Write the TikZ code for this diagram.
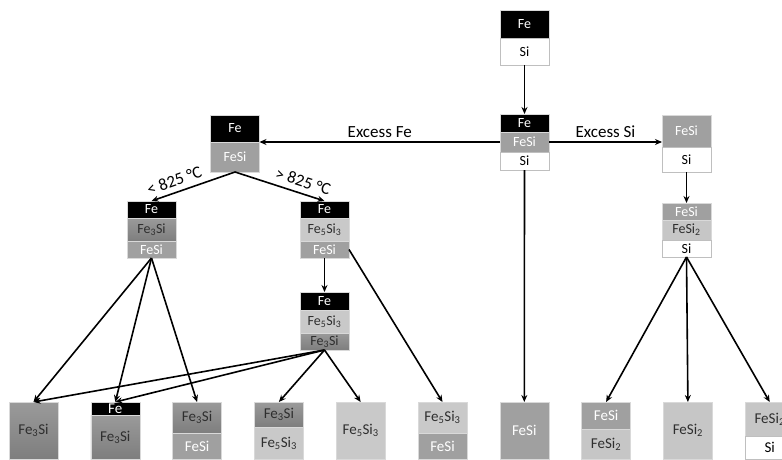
\documentclass[tikz,border=0pt]{standalone}
\usepackage{fontspec}
\setmainfont{Carlito}
\usetikzlibrary{positioning,arrows.meta}
\definecolor{fesigray}{HTML}{A0A0A0}
\definecolor{fethreetop}{HTML}{9A9A9A}
\definecolor{fethreebot}{HTML}{7E7E7E}
\definecolor{fefivegray}{HTML}{C9C9C9}
\definecolor{fesitwogray}{HTML}{C6C6C6}
\definecolor{inkgray}{HTML}{2E2E2E}
\tikzset{
  lay/.style={minimum width=49pt,inner sep=0pt,outer sep=0pt,draw=black!15,line width=0.4pt,font=\fontsize{14}{16}\selectfont},
  big/.style={font=\fontsize{15}{17}\selectfont},
  fe/.style={lay,fill=black,text=white},
  fesi/.style={lay,fill=fesigray,text=white},
  si/.style={lay,fill=white,text=black,draw=black!25},
  fethreesi/.style={lay,top color=fethreetop,bottom color=fethreebot,text=inkgray},
  fefivesithree/.style={lay,fill=fefivegray,text=inkgray},
  fesitwo/.style={lay,fill=fesitwogray,text=inkgray},
  link/.style={->,>={Stealth[length=7pt,width=6pt]},line width=1.6pt},
  lbl/.style={font=\fontsize{17}{19}\selectfont,text=black}
}
\begin{document}
\begin{tikzpicture}[x=1pt,y=-1pt]
\pgfmathsetmacro{\kdx}{81.8}
\clip (0,0) rectangle (782,460);
% starting couple
\node[fe,minimum height=28pt,anchor=north] (a1) at (524.5,10) {Fe};
\node[si,minimum height=27pt,below=0pt of a1] (a2) {Si};
% reacted couple
\node[fe,minimum height=18pt,anchor=north] (b1) at (524.5,114) {Fe};
\node[fesi,minimum height=20pt,below=0pt of b1] (b2) {FeSi};
\node[si,minimum height=18pt,below=0pt of b2] (b3) {Si};
% excess Fe
\node[fe,minimum height=27pt,anchor=north] (c1) at (235,115) {Fe};
\node[fesi,minimum height=30pt,below=0pt of c1] (c2) {FeSi};
% excess Si
\node[fesi,minimum height=32pt,anchor=north] (d1) at (686.5,115) {FeSi};
\node[si,minimum height=25pt,below=0pt of d1] (d2) {Si};
\node[fesi,minimum height=17pt,anchor=north] (e1) at (686.5,203) {FeSi};
\node[fesitwo,minimum height=20pt,below=0pt of e1] (e2) {FeSi\textsubscript{2}};
\node[si,minimum height=17pt,below=0pt of e2] (e3) {Si};
% below 825
\node[fe,minimum height=17pt,anchor=north] (f1) at (151.5,201) {Fe};
\node[fethreesi,minimum height=23pt,below=0pt of f1] (f2) {Fe\textsubscript{3}Si};
\node[fesi,minimum height=17pt,below=0pt of f2] (f3) {FeSi};
% above 825
\node[fe,minimum height=17pt,anchor=north] (g1) at (324.5,201) {Fe};
\node[fefivesithree,minimum height=23pt,below=0pt of g1] (g2) {Fe\textsubscript{5}Si\textsubscript{3}};
\node[fesi,minimum height=17pt,below=0pt of g2] (g3) {FeSi};
\node[fe,minimum height=18pt,anchor=north] (h1) at (324.5,292) {Fe};
\node[fefivesithree,minimum height=23pt,below=0pt of h1] (h2) {Fe\textsubscript{5}Si\textsubscript{3}};
\node[fethreesi,minimum height=17pt,below=0pt of h2] (h3) {Fe\textsubscript{3}Si};
% final products
\node[fethreesi,big,minimum height=57pt,anchor=north] (p1) at (33.5,402) {Fe\textsubscript{3}Si};
\node[fe,big,minimum height=13pt,anchor=north] (p2) at ({33.5+1*\kdx},402) {Fe};
\node[fethreesi,big,minimum height=44pt,below=0pt of p2] (p2b) {Fe\textsubscript{3}Si};
\node[fethreesi,big,minimum height=31pt,anchor=north] (p3) at ({33.5+2*\kdx},402) {Fe\textsubscript{3}Si};
\node[fesi,big,minimum height=26pt,below=0pt of p3] (p3b) {FeSi};
\node[fethreesi,big,minimum height=25pt,anchor=north] (p4) at ({33.5+3*\kdx},402) {Fe\textsubscript{3}Si};
\node[fefivesithree,big,minimum height=32pt,below=0pt of p4] (p4b) {Fe\textsubscript{5}Si\textsubscript{3}};
\node[fefivesithree,big,minimum height=57pt,anchor=north] (p5) at ({33.5+4*\kdx},402) {Fe\textsubscript{5}Si\textsubscript{3}};
\node[fefivesithree,big,minimum height=31pt,anchor=north] (p6) at ({33.5+5*\kdx},402) {Fe\textsubscript{5}Si\textsubscript{3}};
\node[fesi,big,minimum height=26pt,below=0pt of p6] (p6b) {FeSi};
\node[fesi,big,minimum height=57pt,anchor=north] (p7) at ({33.5+6*\kdx},402) {FeSi};
\node[fesi,big,minimum height=27pt,anchor=north] (p8) at ({33.5+7*\kdx},402) {FeSi};
\node[fesitwo,big,minimum height=30pt,below=0pt of p8] (p8b) {FeSi\textsubscript{2}};
\node[fesitwo,big,minimum height=57pt,anchor=north] (p9) at ({33.5+8*\kdx},402) {FeSi\textsubscript{2}};
\node[fesitwo,big,minimum height=34pt,anchor=north] (p10) at ({33.5+9*\kdx},402) {FeSi\textsubscript{2}};
\node[si,big,minimum height=23pt,below=0pt of p10] (p10b) {Si};
% connectors
\draw[link] (a2) -- (b1);
\draw[link] (b2.west) -- node[lbl,above]{Excess Fe} (c1.south east);
\draw[link] (b2.east) -- node[lbl,above]{Excess Si} (b2.east -| d1.west);
\draw[link] (d2) -- (e1);
\foreach \p in {p8,p9,p10}{\draw[link] (e3.south) -- (\p.north);}
\draw[link] (b3.south) -- (p7.north);
\draw[link,<-] (f1.north) -- node[lbl,sloped,above=2pt,pos=0.32]{< 825 °C} (c2.south);
\draw[link] (c2.south) -- node[lbl,sloped,above=2pt,pos=0.72]{> 825 °C} (g1.north);
\foreach \p in {p1,p2,p3}{\draw[link] (f3.south) -- (\p.north);}
\draw[link] (g3) -- (h1);
\foreach \p in {p1,p2,p4,p5}{\draw[link] (h3.south) -- (\p.north);}
\draw[link] (g3.east) -- (p6.north);
\end{tikzpicture}
\end{document}
